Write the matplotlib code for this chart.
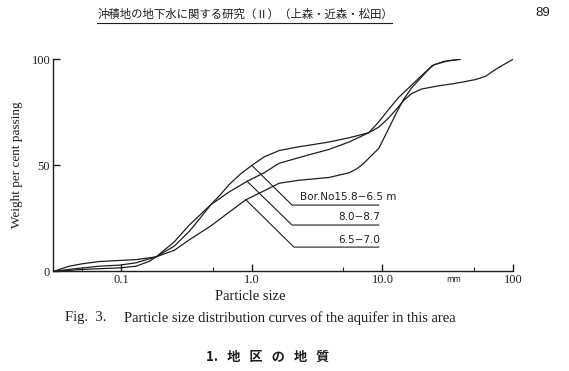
import matplotlib
matplotlib.use("Agg")
import matplotlib.pyplot as plt
from matplotlib.lines import Line2D

# particle size (mm) and percent passing
size1 = [0.03, 0.040, 0.051, 0.068, 0.097, 0.130, 0.185, 0.255, 0.333, 0.40, 0.486, 0.58, 0.671,
         0.82, 1.0, 1.24, 1.62, 2.30, 2.74, 3.89, 5.54, 7.86, 9.37, 11.2, 13.3, 16.7, 21.3,
         24.9, 32.0, 39.5]
pct1 = [0, 1.0, 1.7, 2.5, 3.0, 4.1, 6.9, 12.0, 19.0, 25.0, 31.5, 36.5, 41.0,
        46.0, 50.0, 54.0, 57.0, 58.8, 59.5, 61.0, 63.0, 65.4, 70.5, 76.5, 82.0, 87.8, 94.0,
        97.5, 99.3, 100]

size2 = [0.03, 0.051, 0.097, 0.130, 0.164, 0.185, 0.255, 0.333, 0.486, 0.671, 0.92, 1.24,
         1.62, 2.74, 3.89, 5.54, 7.86, 9.37, 11.0, 12.6, 14.5, 16.7, 20.0, 26.9, 35.0, 43.0,
         52.0, 61.6, 77.0, 100]
pct2 = [0, 1.0, 1.7, 2.5, 4.8, 6.9, 14.0, 22.0, 31.5, 37.5, 42.5, 46.5,
        51.0, 55.0, 57.5, 61.0, 65.4, 68.0, 72.0, 76.0, 80.5, 83.8, 86.0, 87.5, 88.5, 89.5,
        90.5, 92.0, 96.0, 100]

size3 = [0.03, 0.040, 0.051, 0.068, 0.097, 0.130, 0.185, 0.255, 0.333, 0.486, 0.671, 0.9,
         1.24, 1.62, 2.30, 3.89, 5.54, 6.4, 7.2, 8.2, 9.37, 10.9, 12.6, 14.5, 16.7, 20.9,
         24.0, 29.6, 39.5]
pct3 = [0, 2.5, 3.7, 4.7, 5.2, 5.6, 6.9, 10.0, 15.0, 21.5, 28.0, 33.8,
        38.0, 41.6, 43.0, 44.3, 46.5, 48.5, 51.0, 54.5, 58.0, 66.0, 74.0, 81.0, 86.5, 93.0,
        97.0, 99.0, 100]

labels = ["Bor.No15.8\u22126.5 m", "8.0\u22128.7", "6.5\u22127.0"]
lead_x = [[1.0, 2.03, 9.37], [0.92, 2.03, 9.37], [0.9, 2.1, 9.37]]
lead_y = [[50.0, 31.3, 31.3], [42.5, 21.9, 21.9], [33.8, 11.5, 11.5]]

xticks = [0.1, 1.0, 10.0, 100]
xticklabels = ["0.1", "1.0", "10.0", "100"]
yticks = [0, 50, 100]

serif = ["Liberation Serif", "DejaVu Serif"]
cjk = ["Noto Sans CJK JP", "DejaVu Sans"]
ink = "#1e1e1e"

fig = plt.figure(figsize=(5.69, 3.71), dpi=100)
ax = fig.add_axes([0.0931, 0.2682, 0.8085, 0.572])

for s, p in [(size1, pct1), (size2, pct2), (size3, pct3)]:
    ax.plot(s, p, color=ink, lw=0.9)

for lx, ly in zip(lead_x, lead_y):
    ax.plot(lx, ly, color=ink, lw=0.8)

ax.text(2.34, 35.2, labels[0], fontsize=7.5, color=ink, family="DejaVu Sans", va="center")
ax.text(9.6, 25.8, labels[1], fontsize=7.5, color=ink, family="DejaVu Sans", va="center", ha="right")
ax.text(4.6, 14.8, labels[2], fontsize=7.5, color=ink, family="DejaVu Sans", va="center")
ax.text(35, -4.0, "mm", fontsize=5.5, color=ink, ha="center", va="center")

ax.set_xscale("log")
ax.set_xlim(0.03, 100)
ax.set_ylim(0, 100)
ax.set_xticks(xticks)
ax.set_xticklabels(xticklabels)
ax.set_xticks([0.05, 0.5, 5, 50], minor=True)
ax.set_xticklabels([], minor=True)
ax.set_yticks(yticks)
ax.set_yticklabels(["0", "50", "100"])

for side in ["top", "right"]:
    ax.spines[side].set_visible(False)
for side in ["left", "bottom"]:
    ax.spines[side].set_color(ink)
    ax.spines[side].set_linewidth(1.0)

ax.tick_params(axis="x", which="major", direction="in", length=5, width=1.0, color=ink, pad=2)
ax.tick_params(axis="x", which="minor", direction="in", length=3, width=0.8, color=ink)
ax.tick_params(axis="y", direction="in", length=5, width=1.0, color=ink, pad=2)
for t in ax.get_xticklabels() + ax.get_yticklabels():
    t.set_fontfamily(serif)
    t.set_fontsize(9)
    t.set_color(ink)

# page furniture around the figure
fig.text(0.4305, 0.962, "沖積地の地下水に関する研究（Ⅱ）（上森・近森・松田）",
         fontsize=8.2, family=cjk, color=ink, ha="center", va="center")
fig.add_artist(Line2D([0.1705, 0.689], [0.938, 0.938], color=ink, lw=0.8))
fig.text(0.954, 0.965, "89", fontsize=9.5, family="Liberation Sans", color=ink, ha="center", va="center")

fig.text(0.030, 0.555, "Weight per cent passing", rotation=90, fontsize=9.5,
         family=serif, color=ink, ha="center", va="center")
fig.text(0.4394, 0.1995, "Particle size", fontsize=10.5, family=serif, color=ink,
         ha="center", va="center")
fig.text(0.114, 0.1429, "Fig.  3.", fontsize=10.5, family=serif, color=ink, va="center")
fig.text(0.218, 0.1429, "Particle size distribution curves of the aquifer in this area",
         fontsize=10.5, family=serif, color=ink, va="center")
fig.text(0.471, 0.0377, "1.   地   区   の   地   質", fontsize=9.5, family=cjk, color=ink,
         ha="center", va="center", fontweight="bold")

fig.savefig("out.png", dpi=100, facecolor="white")
